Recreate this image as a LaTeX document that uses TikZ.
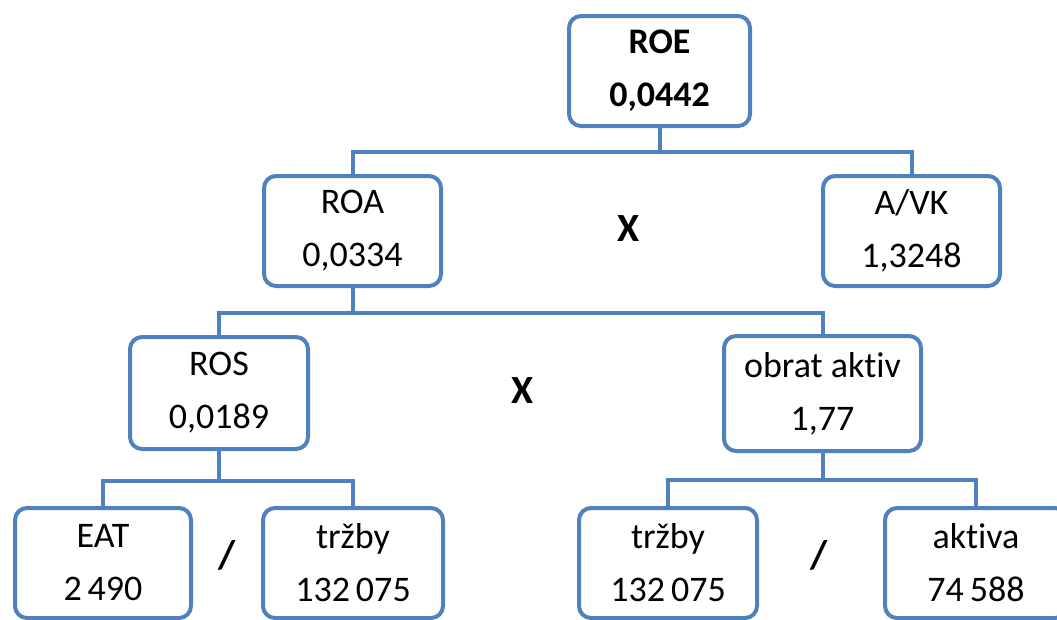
\documentclass[tikz,border=0pt]{standalone}
\usepackage{fontspec}
\setmainfont[Ligatures=NoCommon]{Carlito}
\definecolor{boxblue}{HTML}{4F81BD}
\begin{document}
\begin{tikzpicture}
[x=1pt, y=-1pt,
 box/.style={draw=boxblue, line width=4pt, rounded corners=12pt, fill=white, align=center, inner sep=0pt,
   font=\fontsize{36}{53}\selectfont},
 link/.style={draw=boxblue, line width=4pt},
 op/.style={font=\fontsize{40}{40}\selectfont\bfseries}]
\useasboundingbox (0,0) rectangle (1057,619);
\clip (0,0) rectangle (1057,619);
\node [box, minimum width=181pt, minimum height=110pt, font=\fontsize{36}{53}\selectfont\bfseries] (roe) at (659.5,71) {ROE\\0,0442};
\node [box, minimum width=177pt, minimum height=110pt] (roa) at (352.5,231) {ROA\\0,0334};
\node [box, minimum width=177pt, minimum height=110pt] (avk) at (911.5,231) {A/VK\\1,3248};
\node [box, minimum width=178pt, minimum height=112pt] (ros) at (219,393) {ROS\\0,0189};
\node [box, minimum width=197pt, minimum height=115pt] (obrat) at (822.5,393.5) {obrat aktiv\\1,77};
\node [box, minimum width=176pt, minimum height=110pt] (eat) at (103,563) {EAT\\2\,490};
\node [box, minimum width=180pt, minimum height=110pt] (trzbyA) at (353,563) {tržby\\132\,075};
\node [box, minimum width=178pt, minimum height=110pt] (trzbyB) at (668,563) {tržby\\132\,075};
\node [box, minimum width=182pt, minimum height=110pt] (aktiva) at (976,563) {aktiva\\74\,588};
\node [op] (x1) at (629,229) {X};
\node [op] (x2) at (523,391) {X};
\node [op] (d1) at (227,555) {/};
\node [op] (d2) at (819,555) {/};
\draw [link] (roe.south) -- ++(0,24) coordinate (j1);
\draw [link] (j1) -| (roa.north);
\draw [link] (j1) -| (avk.north);
\draw [link] (roa.south) -- ++(0,25) coordinate (j2);
\draw [link] (j2) -| (ros.north);
\draw [link] (j2) -| (obrat.north);
\draw [link] (ros.south) -- ++(0,30) coordinate (j3);
\draw [link] (j3) -| (eat.north);
\draw [link] (j3) -| (trzbyA.north);
\draw [link] (obrat.south) -- ++(0,27) coordinate (j4);
\draw [link] (j4) -| (trzbyB.north);
\draw [link] (j4) -| (aktiva.north);
\end{tikzpicture}
\end{document}
